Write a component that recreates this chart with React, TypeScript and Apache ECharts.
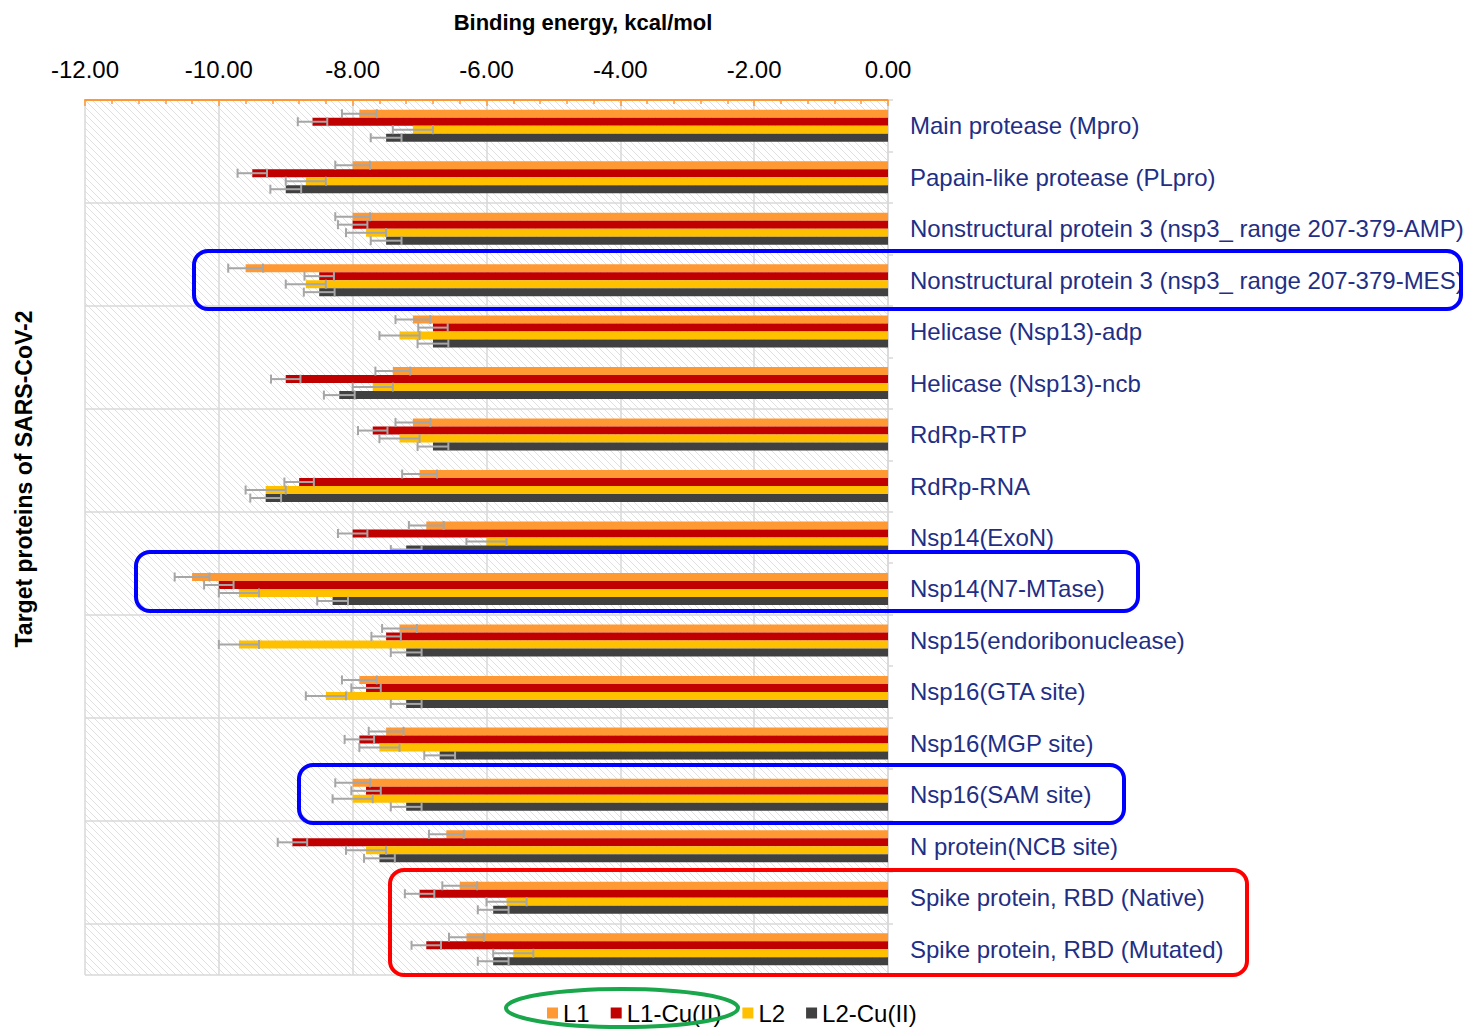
import React, { useEffect, useRef } from "react";
import * as echarts from "echarts";

const categories = [
  "Main protease (Mpro)",
  "Papain-like protease (PLpro)",
  "Nonstructural protein 3 (nsp3_ range 207-379-AMP)",
  "Nonstructural protein 3 (nsp3_ range 207-379-MES)",
  "Helicase (Nsp13)-adp",
  "Helicase (Nsp13)-ncb",
  "RdRp-RTP",
  "RdRp-RNA",
  "Nsp14(ExoN)",
  "Nsp14(N7-MTase)",
  "Nsp15(endoribonuclease)",
  "Nsp16(GTA site)",
  "Nsp16(MGP site)",
  "Nsp16(SAM site)",
  "N protein(NCB site)",
  "Spike protein, RBD (Native)",
  "Spike protein, RBD (Mutated)",
];

const seriesNames = ["L1", "L1-Cu(II)", "L2", "L2-Cu(II)"];

const L1 = [-7.9, -8.0, -8.0, -9.6, -7.1, -7.4, -7.1, -7.0, -6.9, -10.4, -7.3, -7.9, -7.5, -8.0, -6.6, -6.4, -6.3];
const L1Cu = [-8.6, -9.5, -8.0, -8.5, -6.8, -9.0, -7.7, -8.8, -8.0, -10.0, -7.5, -7.8, -7.9, -7.8, -8.9, -7.0, -6.9];
const L2 = [-7.1, -8.7, -7.8, -8.7, -7.3, -7.7, -7.3, -9.3, -6.0, -9.7, -9.7, -8.4, -7.6, -8.0, -7.8, -5.7, -5.6];
const L2Cu = [-7.5, -9.0, -7.5, -8.5, -6.8, -8.2, -6.8, -9.3, -7.2, -8.3, -7.2, -7.2, -6.7, -7.2, -7.6, -5.9, -5.9];

const errL1 = [0.26, 0.26, 0.26, 0.26, 0.26, 0.26, 0.26, 0.26, 0.26, 0.26, 0.26, 0.26, 0.26, 0.26, 0.26, 0.26, 0.26];
const errL1Cu = [0.22, 0.22, 0.22, 0.22, 0.22, 0.22, 0.22, 0.22, 0.22, 0.22, 0.22, 0.22, 0.22, 0.22, 0.22, 0.22, 0.22];
const errL2 = [0.3, 0.3, 0.3, 0.3, 0.3, 0.3, 0.3, 0.3, 0.3, 0.3, 0.3, 0.3, 0.3, 0.3, 0.3, 0.3, 0.3];
const errL2Cu = [0.23, 0.23, 0.23, 0.23, 0.23, 0.23, 0.23, 0.23, 0.23, 0.23, 0.23, 0.23, 0.23, 0.23, 0.23, 0.23, 0.23];

const xTicks = { min: -12, max: 0, interval: 2 };

const FONT = "'Liberation Sans', Arial, sans-serif";
const COLORS = ["#FF9933", "#C00000", "#FFC000", "#404040"];
const BAR_W = 8;

const PLOT = { left: 85, right: 888, top: 100, bottom: 975 };

function buildHatch() {
  const els: any[] = [];
  const { left: x0, right: x1, top: y0, bottom: y1 } = PLOT;
  const step = 7;
  for (let c = x0 - y1; c <= x1 - y0; c += step) {
    const ya = Math.max(y0, x0 - c);
    const yb = Math.min(y1, x1 - c);
    if (yb - ya < 0.5) continue;
    els.push({
      type: "line",
      silent: true,
      z: -10,
      shape: { x1: ya + c, y1: ya, x2: yb + c, y2: yb },
      style: { stroke: "#E0E0E0", lineWidth: 1 },
    });
  }
  return els;
}

function errSeries(idx: number, values: number[], errs: number[]) {
  return {
    type: "custom",
    name: "err-" + seriesNames[idx],
    z: 5,
    silent: true,
    encode: { x: 1, y: 0 },
    data: values.map((v, i) => [i, v, errs[i]]),
    renderItem: (params: any, api: any) => {
      const cat = api.value(0);
      const v = api.value(1);
      const e = api.value(2);
      const c = api.coord([v, cat]);
      const y = c[1] + (idx - 1.5) * BAR_W;
      const xl = api.coord([v - e, cat])[0];
      const xr = api.coord([v + e, cat])[0];
      const st = { stroke: "#A6A6A6", lineWidth: 2 };
      const h = 4.5;
      return {
        type: "group",
        children: [
          { type: "line", shape: { x1: xl, y1: y, x2: xr, y2: y }, style: st },
          { type: "line", shape: { x1: xl, y1: y - h, x2: xl, y2: y + h }, style: st },
          { type: "line", shape: { x1: xr, y1: y - h, x2: xr, y2: y + h }, style: st },
        ],
      };
    },
  };
}

function roundRect(x: number, y: number, w: number, h: number, color: string) {
  return {
    type: "rect",
    z: 100,
    silent: true,
    shape: { x, y, width: w, height: h, r: 14 },
    style: { fill: "none", stroke: color, lineWidth: 4 },
  };
}

export default function App() {
  const ref = useRef<HTMLDivElement>(null);
  useEffect(() => {
    if (!ref.current) return;
    const chart = echarts.init(ref.current, null, { renderer: "svg" });
    const barData = [L1, L1Cu, L2, L2Cu];
    const errData = [errL1, errL1Cu, errL2, errL2Cu];
    const option: any = {
      animation: false,
      backgroundColor: "#ffffff",
      textStyle: { fontFamily: FONT },
      grid: {
        left: PLOT.left,
        right: 1464 - PLOT.right,
        top: PLOT.top,
        bottom: 1030 - PLOT.bottom,
        containLabel: false,
        outerBoundsMode: "none",
      },
      xAxis: {
        type: "value",
        position: "top",
        min: xTicks.min,
        max: xTicks.max,
        interval: xTicks.interval,
        axisLine: { show: true, onZero: false, lineStyle: { color: "#FF9933", width: 2 } },
        axisTick: { show: true, inside: true, length: 6, lineStyle: { color: "#FF9933", width: 1.5 } },
        minorTick: { show: true, splitNumber: 5, length: 4, lineStyle: { color: "#FF9933", width: 1.5 } },
        axisLabel: {
          formatter: (v: number) => v.toFixed(2),
          fontSize: 24,
          color: "#000000",
          margin: 19,
          fontFamily: FONT,
        },
        splitLine: { show: true, lineStyle: { color: "#D9D9D9", width: 1.5 } },
      },
      yAxis: {
        type: "category",
        data: categories,
        inverse: true,
        position: "right",
        axisLine: { show: true, onZero: false, lineStyle: { color: "#D9D9D9", width: 1.5 } },
        axisTick: { show: true, length: 5, lineStyle: { color: "#D9D9D9", width: 1.5 } },
        axisLabel: { fontSize: 24, color: "#1F2F85", margin: 22, fontFamily: FONT },
        splitLine: { show: true, interval: 1, lineStyle: { color: "#D9D9D9", width: 1.5 } },
      },
      legend: {
        data: seriesNames,
        left: 547,
        top: 1001,
        padding: 0,
        itemWidth: 11,
        itemHeight: 11,
        itemGap: 21,
        icon: "rect",
        textStyle: { fontSize: 24, color: "#000000", fontFamily: FONT },
      },
      series: [
        ...barData.map((d, i) => ({
          type: "bar",
          name: seriesNames[i],
          data: d,
          barWidth: BAR_W,
          barGap: "0%",
          itemStyle: { color: COLORS[i] },
          z: 2,
        })),
        ...barData.map((d, i) => errSeries(i, d, errData[i])),
      ],
      graphic: [
        { type: "group", silent: true, z: -10, children: buildHatch() },
        {
          type: "text",
          x: 583,
          y: 22,
          style: {
            text: "Binding energy, kcal/mol",
            fontSize: 22,
            fontWeight: "bold",
            fontFamily: FONT,
            fill: "#000000",
            align: "center",
            verticalAlign: "middle",
          },
        },
        {
          type: "text",
          x: 24,
          y: 479,
          rotation: Math.PI / 2,
          style: {
            text: "Target proteins of SARS-CoV-2",
            fontSize: 23,
            fontWeight: "bold",
            fontFamily: FONT,
            fill: "#000000",
            align: "center",
            verticalAlign: "middle",
          },
        },
        roundRect(194, 251, 1267, 58, "#0000FF"),
        roundRect(136, 552, 1002, 59, "#0000FF"),
        roundRect(299, 765, 825, 58, "#0000FF"),
        roundRect(390, 870, 857, 105, "#FF0000"),
        {
          type: "ellipse",
          z: 100,
          silent: true,
          shape: { cx: 622, cy: 1008, rx: 116, ry: 19 },
          style: { fill: "none", stroke: "#1AA64A", lineWidth: 4 },
        },
      ],
    };
    chart.setOption(option);
    return () => chart.dispose();
  }, []);
  return (
    <div
      ref={ref}
      style={{ position: "fixed", left: 0, top: 0, width: 1464, height: 1030, background: "#fff" }}
    />
  );
}
